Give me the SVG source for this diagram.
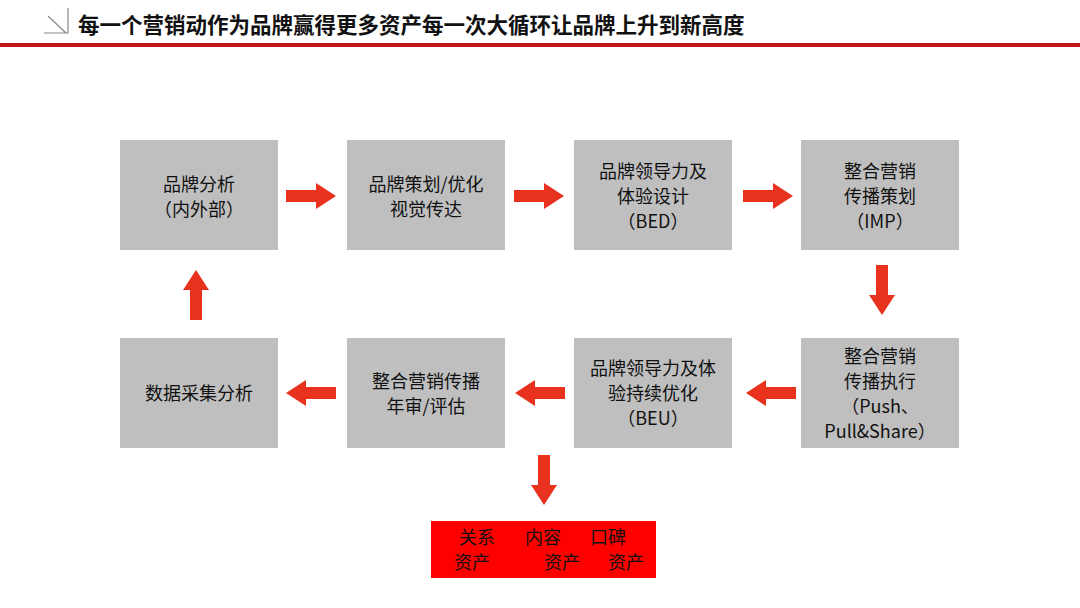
<svg xmlns="http://www.w3.org/2000/svg" width="1080" height="608" viewBox="0 0 1080 608">
<style>
.b{fill:#bfbfbf}
.t{font-family:"Noto Sans CJK SC","Liberation Sans",sans-serif;font-size:18px;fill:#111;text-anchor:middle}
.a{fill:#e8321e}
</style>
<defs>
<path id="ar" d="M0,-6 H30 V-13 L50,0 L30,13 V6 H0 Z" class="a"/>
</defs>
<rect width="1080" height="608" fill="#fff"/>
<g stroke="#888" stroke-width="1.2" fill="none"><path d="M48,16 L66,33 M68,8 V33 H44"/></g>
<text x="78" y="33" font-family="Noto Sans CJK SC,sans-serif" font-weight="bold" font-size="21.5" fill="#111">每一个营销动作为品牌赢得更多资产每一次大循环让品牌上升到新高度</text>
<rect x="0" y="43" width="1080" height="4" fill="#c0171d"/>
<g id="n1"><rect class="b" x="120" y="140" width="158" height="110"/><text class="t" x="199" y="191">品牌分析</text><text class="t" x="199" y="216">（内外部）</text></g>
<g id="n2"><rect class="b" x="347" y="140" width="158" height="110"/><text class="t" x="426" y="191">品牌策划/优化</text><text class="t" x="426" y="216">视觉传达</text></g>
<g id="n3"><rect class="b" x="574" y="140" width="158" height="110"/><text class="t" x="653" y="178">品牌领导力及</text><text class="t" x="653" y="203">体验设计</text><text class="t" x="653" y="228">（BED）</text></g>
<g id="n4"><rect class="b" x="801" y="140" width="158" height="110"/><text class="t" x="880" y="178">整合营销</text><text class="t" x="880" y="203">传播策划</text><text class="t" x="880" y="228">（IMP）</text></g>
<g id="n5"><rect class="b" x="801" y="338" width="158" height="110"/><text class="t" x="880" y="363">整合营销</text><text class="t" x="880" y="388">传播执行</text><text class="t" x="880" y="413">（Push、</text><text class="t" x="880" y="438">Pull&amp;Share）</text></g>
<g id="n6"><rect class="b" x="574" y="338" width="158" height="110"/><text class="t" x="653" y="375">品牌领导力及体</text><text class="t" x="653" y="400">验持续优化</text><text class="t" x="653" y="425">（BEU）</text></g>
<g id="n7"><rect class="b" x="347" y="338" width="158" height="110"/><text class="t" x="426" y="388">整合营销传播</text><text class="t" x="426" y="413">年审/评估</text></g>
<g id="n8"><rect class="b" x="120" y="338" width="158" height="110"/><text class="t" x="199" y="400">数据采集分析</text></g>
<g id="n9"><rect x="431" y="521" width="225" height="57" fill="#f00"/>
<text class="t" x="477" y="544">关系</text><text class="t" x="543" y="544">内容</text><text class="t" x="608" y="544">口碑</text>
<text class="t" x="472" y="569">资产</text><text class="t" x="562" y="569">资产</text><text class="t" x="626" y="569">资产</text></g>
<g id="connectors">
<use href="#ar" transform="translate(286,196)"/>
<use href="#ar" transform="translate(514,196)"/>
<use href="#ar" transform="translate(743,196)"/>
<use href="#ar" transform="translate(882,265) rotate(90)"/>
<use href="#ar" transform="translate(796,393) rotate(180)"/>
<use href="#ar" transform="translate(565,393) rotate(180)"/>
<use href="#ar" transform="translate(336,393) rotate(180)"/>
<use href="#ar" transform="translate(196,320) rotate(-90)"/>
<use href="#ar" transform="translate(544,455) rotate(90)"/>
</g>
</svg>
